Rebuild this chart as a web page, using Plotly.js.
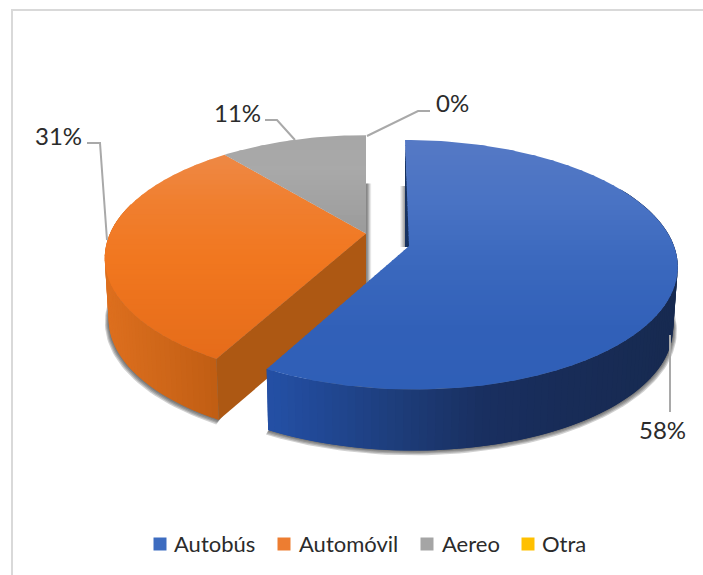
<!DOCTYPE html>
<html>
<head>
<meta charset="utf-8">
<script src="https://cdn.plot.ly/plotly-3.0.1.min.js"></script>
<style>html,body{margin:0;padding:0;background:#fff}#chart{width:703px;height:575px}</style>
</head>
<body>
<div id="chart"></div>
<script>
// Modal share of trips, drawn as an extruded pie with the first slice pulled out.
const categories = ['Autobús', 'Automóvil', 'Aereo', 'Otra'];
const shares = [58, 31, 11, 0];
const keyColors = ['#3d6cc0', '#ed7d31', '#a5a5a5', '#ffc000'];

const W = 703, H = 575;
const FONT = 'Lato, "Open Sans", sans-serif';
const INK = '#2b2b2b';
const LEADER = '#a9a9a9';

// Camera settings for the pulled-out disc and for the rest of the pie.
const pulled = {cx: 409, cy: 246, A: 265, B: 122, k: 0.15, s: 4.6};
const seated = {cx: 366, cy: 233.5, A: 256, B: 118, k: 0.2, s: 0};
const wallDepth = 61, vanishX = 366, wallShrink = 0.015;

const faceRamps = [
  [[140,'#5579c5'],[200,'#4a73c4'],[260,'#3b69be'],[330,'#3160b8'],[392,'#2f5fb7']],
  [[150,'#ee8a48'],[200,'#f07f30'],[260,'#f1771f'],[360,'#e56c1a']],
  [[135,'#a6a6a6'],[170,'#a9a9a9'],[238,'#9a9a9a']]
];
const wallRamps = [
  [[265,'#2450a6'],[330,'#204690'],[400,'#1d3c78'],[480,'#192f60'],[560,'#182c58'],[680,'#172a50']],
  [[105,'#dd6f1e'],[170,'#cc6518'],[218,'#bf5c12']]
];

const rad = d => d * Math.PI / 180;
function project(g, deg, r) {
  const u = r * Math.sin(rad(deg)), v = -r * Math.cos(rad(deg)), d = 1 - g.k * v;
  return [g.cx + (g.A * u + g.s * v) / d, g.cy + g.B * v / d];
}
function lower(p, z) {
  return [vanishX + (p[0] - vanishX) * (1 - wallShrink * z), p[1] + wallDepth * z];
}
function hex(c) { return [1, 3, 5].map(i => parseInt(c.substr(i, 2), 16)); }
function ramp(stops, t) {
  if (t <= stops[0][0]) return stops[0][1];
  for (let i = 1; i < stops.length; i++) {
    if (t <= stops[i][0]) {
      const a = hex(stops[i-1][1]), b = hex(stops[i][1]);
      const f = (t - stops[i-1][0]) / (stops[i][0] - stops[i-1][0]);
      return 'rgb(' + a.map((x, j) => Math.round(x + (b[j] - x) * f)).join(',') + ')';
    }
  }
  return stops[stops.length-1][1];
}
function clipY(poly, y0, keepBelow) {
  const out = [];
  for (let i = 0; i < poly.length; i++) {
    const a = poly[i], b = poly[(i + 1) % poly.length];
    const ina = keepBelow ? a[1] >= y0 : a[1] <= y0;
    const inb = keepBelow ? b[1] >= y0 : b[1] <= y0;
    if (ina) out.push(a);
    if (ina !== inb) {
      const f = (y0 - a[1]) / (b[1] - a[1]);
      out.push([a[0] + (b[0] - a[0]) * f, y0]);
    }
  }
  return out;
}

const traces = [];
function fillPoly(pts, color, opacity) {
  if (pts.length < 3) return;
  const xs = pts.map(p => p[0]), ys = pts.map(p => p[1]);
  xs.push(xs[0]); ys.push(ys[0]);
  traces.push({x: xs, y: ys, mode: 'lines', fill: 'toself', fillcolor: color,
    line: {width: 0, color: color}, opacity: opacity === undefined ? 1 : opacity,
    hoverinfo: 'skip', showlegend: false});
}
function arc(g, a0, a1, r) {
  const n = Math.max(2, Math.ceil(Math.abs(a1 - a0) / 1.5)), pts = [];
  for (let i = 0; i <= n; i++) pts.push(project(g, a0 + (a1 - a0) * i / n, r));
  return pts;
}
function face(g, a0, a1, stops) {
  const poly = [[g.cx, g.cy]].concat(arc(g, a0, a1, 1));
  const ys = poly.map(p => p[1]);
  const top = Math.min(...ys), bot = Math.max(...ys), step = 5;
  for (let y = top; y < bot; y += step) {
    const band = clipY(clipY(poly, y, true), y + step + 1, false);
    fillPoly(band, ramp(stops, y + step / 2));
  }
}
function wall(g, a0, a1, stops) {
  const pts = arc(g, a0, a1, 1);
  for (let i = 0; i + 1 < pts.length; i++) {
    const j = Math.min(i + 2, pts.length - 1);
    const a = pts[i], b = pts[j];
    fillPoly([a, b, lower(b, 1), lower(a, 1)], ramp(stops, (a[0] + b[0]) / 2));
  }
}
function softShadow(g, a0, a1) {
  for (let i = 4; i >= 1; i--) {
    const rim = arc(g, a0, a1, 1 + i * 0.0035).map(p => lower(p, 1)).map(p => [p[0], p[1] + i * 0.6]);
    fillPoly(rim.concat([[g.cx, g.cy]]), '#2f2f2f', 0.22);
  }
}

// Slice angles run clockwise from twelve o'clock.
const total = shares.reduce((a, b) => a + b, 0);
const ends = [];
let acc = 0;
shares.forEach((s, i) => { acc += s / total * 360; ends[i] = acc; });

// Ground shadows sit beneath everything else.
softShadow(pulled, 60, ends[0]);
softShadow(seated, ends[0], 285);

// Pie body behind the pulled-out slice.
wall(seated, ends[0], 285, wallRamps[1]);
const apex = [seated.cx, seated.cy];
const tip = project(seated, ends[0], 1);
fillPoly([apex, tip, lower(tip, 1), lower(apex, 1)], '#ad5813');
face(seated, ends[0], ends[1], faceRamps[1]);
face(seated, ends[1], ends[2], faceRamps[2]);

// Shadow strip cast along the cut edge of the grey slice.
[[0, 0.75], [1, 0.6], [2, 0.42], [3, 0.25], [4, 0.1]].forEach(([o, a]) => {
  fillPoly([[seated.cx + o, seated.cy - 50], [seated.cx + o + 1.2, seated.cy - 50],
            [seated.cx + o + 1.2, seated.cy + 60], [seated.cx + o, seated.cy + 60]], '#5f5f5f', a);
});

// Shadow strip and dark cut wall on the inner edge of the pulled-out slice.
[[-9, 0.08], [-8, 0.18], [-7, 0.3], [-6, 0.42], [-5, 0.55], [-4, 0.65]].forEach(([o, a]) => {
  fillPoly([[pulled.cx + o, pulled.cy - 60], [pulled.cx + o + 1.2, pulled.cy - 60],
            [pulled.cx + o + 1.2, pulled.cy + 1], [pulled.cx + o, pulled.cy + 1]], '#5f5f5f', a);
});
const rimTop = project(pulled, 0, 1);
fillPoly([rimTop, [pulled.cx + 1.5, pulled.cy + 1], [pulled.cx - 4, pulled.cy + 1]], '#16315f');

// Pulled-out slice.
wall(pulled, 60, ends[0], wallRamps[0]);
face(pulled, 0, ends[0], faceRamps[0]);

// Leader lines from the disc rim to each percentage label.
const leaders = [
  [[670, 335], [670, 412]],
  [[87, 143], [100, 143], [107, 240]],
  [[265, 120], [277, 120], [295, 140]],
  [[430, 111], [418, 111], [367, 136]]
];
leaders.forEach(path => traces.push({x: path.map(p => p[0]), y: path.map(p => p[1]), mode: 'lines',
  line: {color: LEADER, width: 2}, hoverinfo: 'skip', showlegend: false}));

// Colour key along the bottom edge.
const keyY = 544;
const keySwatchX = [160, 284, 427, 528];
const keyTextX = [172, 297, 440, 540];
categories.forEach((name, i) => traces.push({x: [keySwatchX[i]], y: [keyY], mode: 'markers', name: name,
  marker: {symbol: 'square', size: 13, color: keyColors[i], line: {width: 0}},
  hoverinfo: 'skip', showlegend: false}));
const keyLabels = categories.map((name, i) => ({
  x: keyTextX[i], y: keyY - 0.5, xref: 'x', yref: 'y', showarrow: false, text: name,
  font: {family: FONT, size: 22, color: INK}, xanchor: 'left', yanchor: 'middle'
}));

const labelSpots = [[662, 429.5], [58, 135], [237, 112], [452, 102]];
const pctLabels = shares.map((s, i) => ({
  x: labelSpots[i][0], y: labelSpots[i][1], xref: 'x', yref: 'y', showarrow: false,
  text: s + '%', font: {family: FONT, size: 24, color: INK}, xanchor: 'center', yanchor: 'middle'
}));

const axis = {visible: false, fixedrange: true, showgrid: false, zeroline: false};
Plotly.newPlot('chart', traces, {
  width: W, height: H,
  margin: {l: 0, r: 0, t: 0, b: 0},
  paper_bgcolor: '#ffffff', plot_bgcolor: '#ffffff',
  xaxis: Object.assign({range: [0, W]}, axis),
  yaxis: Object.assign({range: [H, 0]}, axis),
  showlegend: false,
  shapes: [{type: 'rect', xref: 'x', yref: 'y', x0: 12, y0: 10, x1: W + 20, y1: H + 20,
    line: {color: '#d9d9d9', width: 2}, fillcolor: 'rgba(0,0,0,0)', layer: 'below'}],
  annotations: pctLabels.concat(keyLabels)
}, {displayModeBar: false, staticPlot: true});
</script>
</body>
</html>
